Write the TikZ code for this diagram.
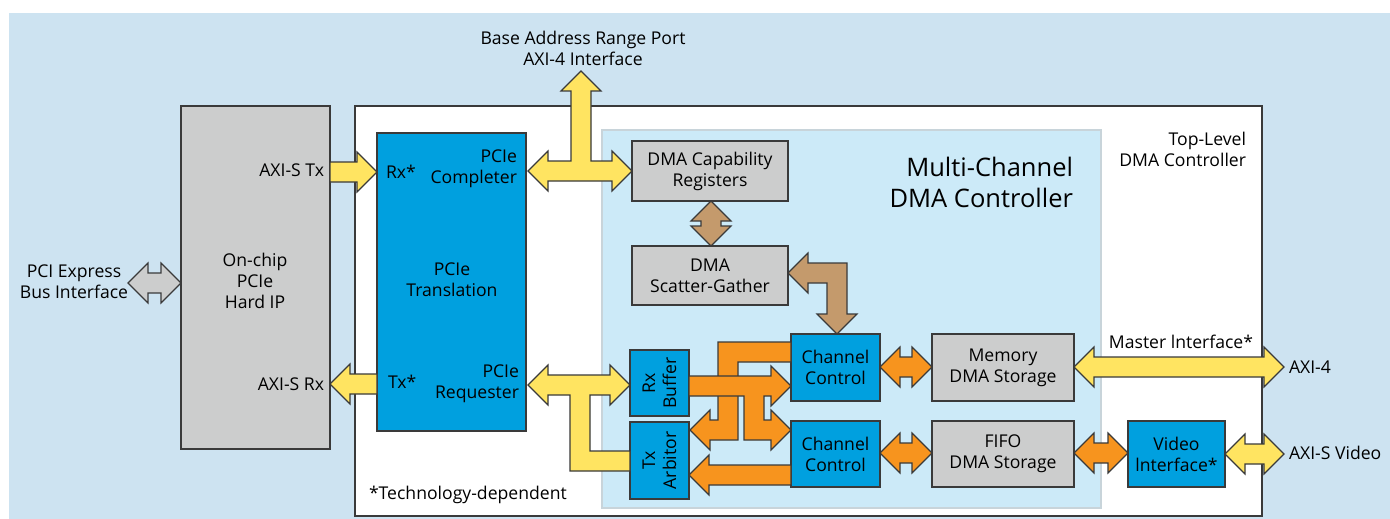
\documentclass[tikz,border=0pt]{standalone}
\usepackage{fontspec}
\setmainfont{Open Sans}
\usetikzlibrary{calc}
\definecolor{bgblue}{RGB}{205,227,241}
\definecolor{mcblue}{RGB}{204,234,248}
\definecolor{mcedge}{RGB}{200,212,218}
\definecolor{boxgray}{RGB}{204,205,205}
\definecolor{boxblue}{RGB}{0,160,223}
\definecolor{ayellow}{RGB}{255,228,97}
\definecolor{aorange}{RGB}{247,148,30}
\definecolor{abrown}{RGB}{196,154,108}
\definecolor{edgec}{RGB}{58,58,58}
% horizontal double block arrow: style, left point, right point, y
\newcommand\hdbl[4]{\filldraw[blk,#1] let \p1=(#2),\p2=(#3),\p3=(0,#4) in
 (\x1,\y3) -- (\x1+20pt,\y3+20pt) -- (\x1+20pt,\y3+10pt) -- (\x2-20pt,\y3+10pt) -- (\x2-20pt,\y3+20pt) -- (\x2,\y3)
 -- (\x2-20pt,\y3-20pt) -- (\x2-20pt,\y3-10pt) -- (\x1+20pt,\y3-10pt) -- (\x1+20pt,\y3-20pt) -- cycle;}
% vertical double block arrow: style, top point, bottom point, x
\newcommand\vdbl[4]{\filldraw[blk,#1] let \p1=(#2),\p2=(#3),\p3=(#4,0) in
 (\x3,\y1) -- (\x3+20pt,\y1-20pt) -- (\x3+10pt,\y1-20pt) -- (\x3+10pt,\y2+20pt) -- (\x3+20pt,\y2+20pt) -- (\x3,\y2)
 -- (\x3-20pt,\y2+20pt) -- (\x3-10pt,\y2+20pt) -- (\x3-10pt,\y1-20pt) -- (\x3-20pt,\y1-20pt) -- cycle;}
% single block arrow to the right: style, from, to, y
\newcommand\rarr[4]{\filldraw[blk,#1] let \p1=(#2),\p2=(#3),\p3=(0,#4) in
 (\x1,\y3+10pt) -- (\x2-20pt,\y3+10pt) -- (\x2-20pt,\y3+20pt) -- (\x2,\y3) -- (\x2-20pt,\y3-20pt) -- (\x2-20pt,\y3-10pt) -- (\x1,\y3-10pt) -- cycle;}
% single block arrow to the left
\newcommand\larr[4]{\filldraw[blk,#1] let \p1=(#2),\p2=(#3),\p3=(0,#4) in
 (\x1,\y3+10pt) -- (\x2+20pt,\y3+10pt) -- (\x2+20pt,\y3+20pt) -- (\x2,\y3) -- (\x2+20pt,\y3-20pt) -- (\x2+20pt,\y3-10pt) -- (\x1,\y3-10pt) -- cycle;}
\begin{document}
\begin{tikzpicture}[x=1pt,y=-1pt,
  every node/.style={font=\fontsize{17.6}{21}\selectfont, text=black, inner sep=0pt, outer sep=0pt},
  blk/.style={draw=edgec, line width=1.2pt, line join=miter},
  yel/.style={fill=ayellow},
  org/.style={fill=aorange},
  brn/.style={fill=abrown},
  gry/.style={fill=boxgray},
  gbox/.style={draw=edgec, line width=1.5pt, fill=boxgray, align=center},
  bbox/.style={draw=edgec, line width=1.5pt, fill=boxblue, align=center},
  txt/.style={align=center}
]
\useasboundingbox (0,0) rectangle (1390,519);
\fill[white] (0,0) rectangle (1390,519);
\fill[bgblue] (9,13) rectangle (1390,519);

% frames
\node[draw=edgec, line width=2pt, fill=white, minimum width=907pt, minimum height=410pt] (top) at (808.5,311) {};
\node[draw=mcedge, line width=1.5pt, fill=mcblue, minimum width=499pt, minimum height=378pt] (mc) at (851.5,319) {};
\node[gbox, minimum width=149pt, minimum height=343pt] (hip) at (255.5,277.5) {};

% boxes
\node[bbox, minimum width=149pt, minimum height=298pt] (pt) at (451.5,282) {};
\node[gbox, minimum width=156pt, minimum height=60pt] (cap) at (710,171) {DMA Capability\\Registers};
\node[gbox, minimum width=156pt, minimum height=59pt] (sg) at (710,275.5) {DMA\\Scatter-Gather};
\node[bbox, minimum width=59pt, minimum height=66pt] (rxb) at (659.5,383) {};
\node[bbox, minimum width=59pt, minimum height=77pt] (txa) at (659.5,460.5) {};
\node[bbox, minimum width=89pt, minimum height=67pt] (cc1) at (835.5,367.5) {Channel\\Control};
\node[bbox, minimum width=89pt, minimum height=66pt] (cc2) at (835.5,454) {Channel\\Control};
\node[gbox, minimum width=142pt, minimum height=67pt] (mem) at (1003,367.5) {Memory\\DMA Storage};
\node[gbox, minimum width=142pt, minimum height=66pt] (fifo) at (1003,454) {FIFO\\DMA Storage};
\node[bbox, minimum width=97pt, minimum height=66pt] (vid) at (1176.5,454) {Video\\lnterface*};

% free ends
\coordinate (pcie) at (128,283);
\coordinate (axi4) at (1284,367);
\coordinate (axisv) at (1284,454);

% gray PCI Express arrow
\hdbl{gry}{pcie}{hip.west}{283}
% yellow AXI-S arrows
\rarr{yel}{hip.east}{pt.west}{172}
\larr{yel}{pt.west}{hip.east}{384}
% completer T arrow
\filldraw[blk,yel] (528,171) -- (548,151) -- (548,161) -- (571,161) -- (571,91) -- (561,91) -- (581,71) -- (601,91) -- (591,91) -- (591,161) -- (612,161) -- (612,151) -- (632,171) -- (612,191) -- (612,181) -- (548,181) -- (548,191) -- cycle;
% requester arrow
\filldraw[blk,yel] (528,385) -- (548,365) -- (548,375) -- (610,375) -- (610,365) -- (630,385) -- (610,405) -- (610,395) -- (590,395) -- (590,451) -- (630,451) -- (630,471) -- (570,471) -- (570,395) -- (548,395) -- (548,405) -- cycle;
% brown arrows
\vdbl{brn}{cap.south}{sg.north}{711}
\filldraw[blk,brn] (788,273) -- (808,253) -- (808,263) -- (847,263) -- (847,314) -- (857,314) -- (837,334) -- (817,314) -- (827,314) -- (827,283) -- (808,283) -- (808,293) -- cycle;
% orange arrows
\filldraw[blk,org] (791,342) -- (718,342) -- (718,420) -- (710,420) -- (710,410) -- (690,430) -- (710,450) -- (710,440) -- (738,440) -- (738,362) -- (791,362) -- cycle;
\filldraw[blk,org] (689,376) -- (771,376) -- (771,366) -- (791,386) -- (771,406) -- (771,396) -- (764,396) -- (764,420) -- (771,420) -- (771,410) -- (791,430) -- (771,450) -- (771,440) -- (744,440) -- (744,396) -- (689,396) -- cycle;
\larr{org}{cc2.west}{txa.east}{475}
\hdbl{org}{cc1.east}{mem.west}{367}
\hdbl{org}{cc2.east}{fifo.west}{453}
\hdbl{org}{fifo.east}{vid.west}{453}
% yellow right side
\hdbl{yel}{mem.east}{axi4}{367}
\hdbl{yel}{vid.east}{axisv}{454}

% texts
\node[txt] (base) at (583,48.5) {Base Address Range Port\\AXI-4 Interface};
\node[align=right, anchor=east] (tl) at (1246,149) {Top-Level\\DMA Controller};
\node[align=right, anchor=east, font=\fontsize{25.5}{31}\selectfont] (mct) at (1073,182.5) {Multi-Channel\\DMA Controller};
\node[txt] (pcit) at (74,282) {PCI Express\\Bus Interface};
\node[txt] (hipt) at (255,281) {On-chip\\PCIe\\Hard IP};
\node[anchor=east] (axt) at (324,170) {AXI-S Tx};
\node[anchor=east] (axr) at (324,384) {AXI-S Rx};
\node[anchor=west] (rxs) at (386,172) {Rx*};
\node[anchor=west] (txs) at (388,382) {Tx*};
\node[align=right, anchor=east] (cmpl) at (517,168.5) {PCIe\\Completer};
\node[txt] (trans) at (452,280) {PCIe\\Translation};
\node[align=right, anchor=east] (req) at (519,383.5) {PCIe\\Requester};
\node[anchor=west] (tech) at (369,495) {*Technology-dependent};
\node[txt, rotate=90] (rxbt) at (659.5,383) {Rx\\Buffer};
\node[txt, rotate=90] (txat) at (659.5,460.5) {Tx\\Arbitor};
\node (mst) at (1181,342) {Master lnterface*};
\node[anchor=west] (a4) at (1289,367) {AXI-4};
\node[anchor=west] (asv) at (1289,453) {AXI-S Video};
\end{tikzpicture}
\end{document}
